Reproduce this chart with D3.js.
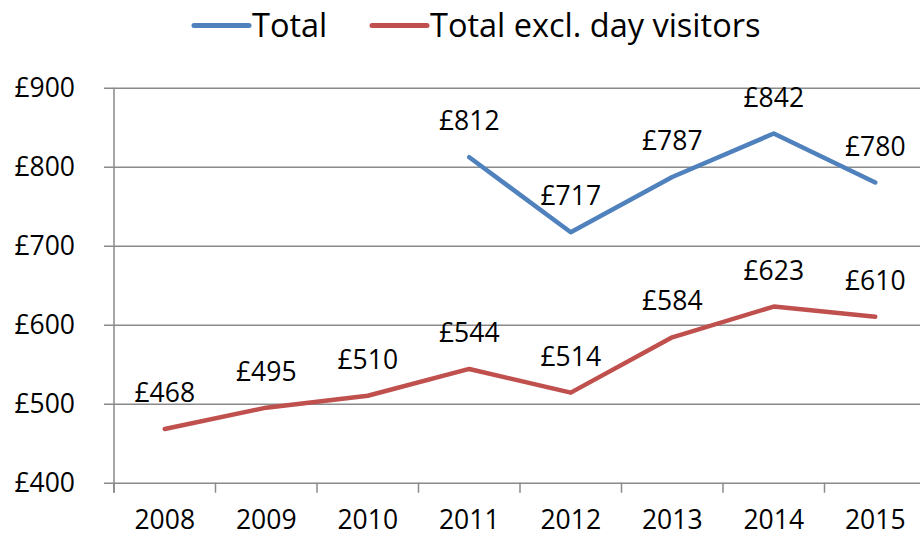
<!DOCTYPE html>
<html>
<head>
<meta charset="utf-8">
<script src="https://cdn.jsdelivr.net/npm/d3@7"></script>
<style>
  html, body { margin: 0; padding: 0; background: #fff; }
  svg text { font-family: "Open Sans", "Noto Sans", sans-serif; fill: #000; }
</style>
</head>
<body>
<svg id="chart" width="920" height="537"></svg>
<script>
// values
const years = ["2008", "2009", "2010", "2011", "2012", "2013", "2014", "2015"];
const totalValues = [null, null, null, 812, 717, 787, 842, 780];
const exclDayValues = [468, 495, 510, 544, 514, 584, 623, 610];
const seriesNames = ["Total", "Total excl. day visitors"];
const yTickValues = [400, 500, 600, 700, 800, 900];

const COLORS = { blue: "#4f81bd", red: "#c0504d", grid: "#8a8a8a" };
const FS = 26.5; // axis + data label size

const plot = { left: 114, right: 926, top: 87.7, bottom: 482.7 };

const svg = d3.select("#chart");

const x = d3.scaleBand().domain(years).range([plot.left, plot.right]).padding(0);
const y = d3.scaleLinear().domain([400, 900]).range([plot.bottom, plot.top]);
const cx = (d) => x(d) + x.bandwidth() / 2;

// y axis: gridlines + small outside ticks
const gy = svg.append("g")
  .attr("transform", `translate(${plot.left},0)`)
  .call(d3.axisLeft(y).tickValues(yTickValues)
    .tickSizeInner(-(plot.right - plot.left)).tickSizeOuter(0)
    .tickPadding(39).tickFormat((d) => "£" + d));
gy.select(".domain").remove();
gy.selectAll(".tick line")
  .attr("x1", -10)
  .attr("stroke", COLORS.grid).attr("stroke-width", 1.5);
gy.selectAll(".tick text").attr("font-size", FS).attr("fill", "#000");

// vertical axis line
svg.append("line")
  .attr("x1", plot.left).attr("x2", plot.left)
  .attr("y1", plot.top).attr("y2", plot.bottom + 10)
  .attr("stroke", COLORS.grid).attr("stroke-width", 1.5);

// x axis: labels at band centres, ticks on band edges
const gx = svg.append("g")
  .attr("transform", `translate(0,${plot.bottom})`)
  .call(d3.axisBottom(x).tickSize(0));
gx.select(".domain").remove();
gx.selectAll(".tick text")
  .attr("font-size", FS).attr("fill", "#000")
  .attr("y", 46.5).attr("dy", null);

const edges = years.map((d) => x(d)).concat([x.range()[1]]);
svg.append("g").selectAll("line").data(edges).join("line")
  .attr("x1", (d) => d).attr("x2", (d) => d)
  .attr("y1", plot.bottom).attr("y2", plot.bottom + 10)
  .attr("stroke", COLORS.grid).attr("stroke-width", 1.5);

// series
const series = [
  { name: seriesNames[0], values: totalValues, color: COLORS.blue },
  { name: seriesNames[1], values: exclDayValues, color: COLORS.red },
];

const line = d3.line()
  .defined((d) => d.v != null)
  .x((d) => cx(d.year))
  .y((d) => y(d.v));

series.forEach((s) => {
  const pts = years.map((yr, i) => ({ year: yr, v: s.values[i] }));
  svg.append("path")
    .datum(pts)
    .attr("d", line)
    .attr("fill", "none")
    .attr("stroke", s.color)
    .attr("stroke-width", 4.5)
    .attr("stroke-linejoin", "round")
    .attr("stroke-linecap", "round");

  svg.append("g").selectAll("text").data(pts.filter((d) => d.v != null)).join("text")
    .attr("x", (d) => cx(d.year))
    .attr("y", (d) => y(d.v) - 27)
    .attr("text-anchor", "middle")
    .attr("font-size", FS)
    .text((d) => "£" + d.v);
});

// legend
const legendItems = [
  { name: seriesNames[0], color: COLORS.blue, x0: 194 },
  { name: seriesNames[1], color: COLORS.red, x0: 372 },
];
const lg = svg.append("g").selectAll("g").data(legendItems).join("g")
  .attr("transform", (d) => `translate(${d.x0},25.5)`);
lg.append("line")
  .attr("x1", 0).attr("x2", 55)
  .attr("stroke", (d) => d.color).attr("stroke-width", 5)
  .attr("stroke-linecap", "round");
lg.append("text")
  .attr("x", 58).attr("y", 11.5)
  .attr("font-size", 32.5)
  .text((d) => d.name);
</script>
</body>
</html>
